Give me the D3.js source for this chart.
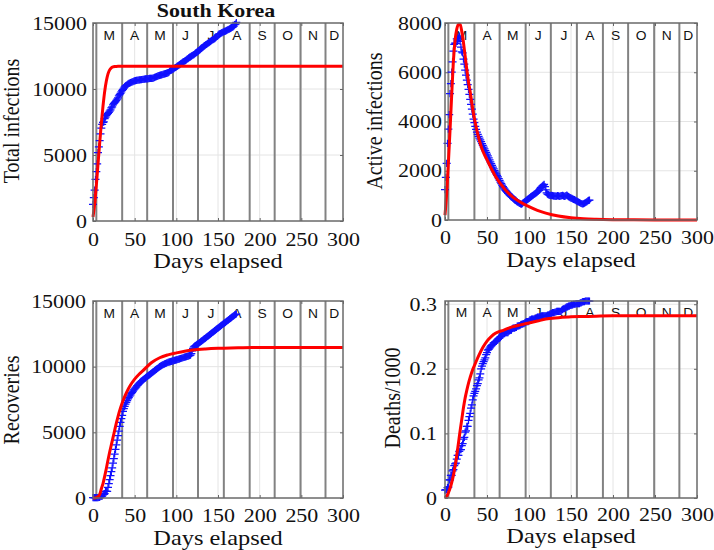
<!DOCTYPE html>
<html><head><meta charset="utf-8">
<script src="https://cdn.jsdelivr.net/npm/d3@7"></script>
<style>body{margin:0;background:#fff}svg{display:block}</style>
</head><body>
<svg id="c" width="714" height="550"></svg>
<script>
// ---------- data (day index = position in array, day 0 = first data day) ----------
const totalInfections = [1261,1766,2337,3150,3736,4335,5186,5621,6088,6593,7041,7314,7478,7513,7755,7869,7979,8086,8162,8236,
8320,8413,8565,8652,8799,8897,8961,9037,9137,9241,9332,9478,9583,9661,9786,9887,9976,10062,10156,10237,
10284,10331,10384,10423,10450,10480,10512,10537,10564,10591,10613,10635,10653,10661,10674,10683,10694,10702,10708,10718,
10728,10738,10752,10761,10765,10774,10780,10793,10801,10804,10806,10810,10822,10840,10874,10909,10936,10962,10991,11018,
11037,11050,11065,11078,11110,11122,11142,11165,11190,11206,11225,11265,11344,11402,11441,11468,11503,11541,11590,11629,
11668,11719,11776,11814,11852,11902,11947,12003,12051,12085,12121,12155,12198,12257,12306,12373,12421,12438,12484,12535,
12563,12602,12653,12715,12757,12800,12850,12904,12967,13030,13091,13137,13181,13244,13293,13338,13373,13417,13479,13512,
13551,13612,13672,13711,13745,13771,13816,13879,13938,13979,14092,14150,14175,14203,14251,14269,14305,14336,14366,14389,
14423,14456,14499,14519,14562,14598,14626,14660,14714,14770,14873,14923,15039];

const activeInfections = [1230,1730,2300,3110,3690,4280,5130,5540,6010,6420,6860,7130,7180,7170,7360,7290,7400,7470,
7250,7020,6830,6790,6530,6330,6090,5880,5680,5500,5300,5100,4900,4700,4500,4300,4100,3950,
3800,3680,3570,3480,3400,3320,3250,3180,3100,3030,2960,2890,2820,2750,2680,2600,2520,2440,2360,2290,2220,2150,2080,2010,1940,
1870,1810,1750,1680,1610,1540,1480,1420,1360,1300,1250,1200,1160,1120,1080,1050,1010,980,950,920,880,850,820,800,770,740,710,690,670,650,640,
660,700,720,740,770,800,830,860,880,910,940,960,990,1010,1040,1060,1090,1110,1140,1170,1200,1260,1310,1350,1390,1420,1450,
1360,1220,1100,1050,1030,1010,1000,990,1000,990,980,970,980,960,970,990,980,960,
970,980,990,1000,980,960,970,990,1010,980,950,930,910,
890,880,860,840,830,810,790,770,750,730,710,690,670,660,650,660,680,700,720,750,780,800,810];

const recoveries = [22,22,22,22,30,30,30,41,41,135,135,135,247,288,333,510,510,510,
800,1100,1400,1700,2000,2300,2650,3000,3350,3700,4050,4400,4750,5100,5450,5750,6050,6300,
6600,6800,6980,7140,7290,7420,7540,7650,7760,7860,7960,8050,8140,8230,8310,8390,8470,8550,8620,8690,8760,8820,8880,8940,9000,
9050,9100,9150,9200,9250,9300,9350,9400,9450,9500,9550,9600,9650,9700,9750,9800,9850,9900,9950,10000,10040,10080,10120,10150,10180,10210,10240,10270,10300,10320,10340,
10360,10380,10400,10420,10440,10460,10480,10500,10520,10540,10560,10580,10600,10620,10640,10660,10680,10700,10720,10740,10760,10780,10800,10820,10850,10880,
11000,11200,11400,11500,11560,11610,11660,11700,11740,
11790,11840,11880,11940,11990,12030,12090,12140,12180,12240,12290,12330,12390,12440,12480,12540,12590,12630,12690,12740,
12780,12840,12890,12930,12990,13040,13080,13140,13190,13230,13290,13340,13380,13440,13490,13530,13590,13640,13680,13740,
13790,13830,13890,13940,13980,14010];

const deathsThousands = [.012,.013,.013,.016,.017,.028,.028,.035,.035,.042,
.044,.050,.053,.054,.060,.066,.066,.072,.075,.075,
.081,.084,.091,.094,.102,.104,.111,.111,.120,.126,
.131,.139,.144,.152,.158,.162,.165,.169,.174,.177,
.183,.186,.192,.200,.204,.208,.211,.214,.217,.222,
.225,.229,.230,.232,.234,.236,.237,.238,.240,.240,
.242,.243,.244,.246,.247,.248,.250,.250,.252,.254,
.255,.256,.256,.256,.256,.256,.258,.259,.260,.260,
.262,.263,.263,.263,.264,.264,.266,.266,.267,.267,
.268,.269,.269,.270,.270,.271,.272,.273,.273,.273,
.274,.276,.276,.277,.277,.277,.277,.278,.278,.279,
.280,.280,.280,.281,.281,.282,.282,.282,.282,.282,
.282,.282,.283,.283,.284,.285,.285,.286,.287,.287,
.287,.288,.288,.289,.289,.289,.289,.289,.289,.291,
.292,.293,.293,.294,.295,.296,.296,.297,.297,.298,
.298,.299,.299,.300,.300,.300,.301,.301,.301,.301,
.301,.302,.302,.303,.304,.304,.304,.305,.305,.305,
.305,.305,.305];

// model curves (red), sampled on modelDays
const modelDays   = [0,2,4,6,8,10,12,14,16,18,20,22,24,26,28,30,33,36,40,45,50,55,60,70,80,90,100,110,120,135,150,165,180,200,225,250,275,300];
const modelTotal  = [300,1300,2700,4300,5900,7400,8700,9800,10600,11150,11450,11600,11670,11700,11710,11715,11715,11715,11715,11715,11715,11715,11715,11715,11715,11715,11715,11715,11715,11715,11715,11715,11715,11715,11715,11715,11715,11715];
const modelActive = [200,1085,2300,3660,5100,6450,7300,7750,7950,7950,7650,7200,6650,6100,5600,5200,4500,3950,3350,2800,2450,2100,1780,1300,950,720,540,390,280,160,90,50,30,15,7,3,1,0];
const modelRecov  = [0,5,30,100,260,700,1100,1650,2250,2900,3500,4050,4600,5150,5700,6200,6850,7400,8000,8600,9050,9400,9700,10300,10680,10900,11050,11180,11270,11350,11400,11430,11445,11455,11460,11460,11460,11460];
const modelDeaths = [0,.003,.008,.015,.024,.035,.049,.066,.085,.104,.122,.140,.155,.167,.178,.187,.199,.208,.220,.233,.243,.250,.255,.260,.265,.268,.271,.274,.277,.279,.2805,.281,.2815,.282,.282,.282,.282,.282];

const monthStarts = [4,35,65,96,126,157,188,218,249,279];
const monthNames  = ["M","A","M","J","J","A","S","O","N","D"];
const xTicks = [0,50,100,150,200,250,300];
const yTicksCases  = [0,5000,10000,15000];
const yTicksActive = [0,2000,4000,6000,8000];
const yTicksDeaths = [0,0.1,0.2,0.3];

// ---------- drawing ----------
const svg = d3.select("#c");
const SERIF = "'Liberation Serif','Times New Roman',serif";
const SANS = "'Liberation Sans',Arial,sans-serif";
const SX = 1.22;

function txt(g, s, x, y, size, opts={}) {
  return g.append("text").text(s)
    .attr("transform", `translate(${x},${y}) ${opts.rot ? "rotate(-90) scale(1,1.15)" : "scale("+(opts.sx||SX)+",1)"}`)
    .attr("text-anchor", opts.anchor || "middle")
    .attr("font-family", opts.family || SERIF)
    .attr("font-size", size)
    .attr("font-weight", opts.weight || "normal")
    .attr("fill", "#111");
}

function panel(cfg) {
  const g = svg.append("g");
  const x = d3.scaleLinear().domain([0,300]).range([cfg.l, cfg.r]);
  const y = d3.scaleLinear().domain([0,cfg.ymax]).range([cfg.b, cfg.t]);

  g.append("g").selectAll("line").data(xTicks.filter(d=>d>0&&d<300)).enter().append("line")
    .attr("x1",d=>x(d)).attr("x2",d=>x(d)).attr("y1",cfg.t).attr("y2",cfg.b)
    .attr("stroke","#e4e4e4").attr("stroke-width",1);
  g.append("g").selectAll("line").data(cfg.yticks.filter(d=>d>0 && y(d)>cfg.t+1)).enter().append("line")
    .attr("x1",cfg.l).attr("x2",cfg.r).attr("y1",d=>y(d)).attr("y2",d=>y(d))
    .attr("stroke","#e4e4e4").attr("stroke-width",1);

  g.append("g").selectAll("line").data(monthStarts).enter().append("line")
    .attr("x1",d=>x(d)).attr("x2",d=>x(d)).attr("y1",cfg.t).attr("y2",cfg.b)
    .attr("stroke","#828282").attr("stroke-width",2);
  const ends = monthStarts.slice(1).concat([300]);
  monthNames.forEach((m,i)=>{
    txt(g, m, x((monthStarts[i]+ends[i])/2), cfg.mb, 12, {family:SANS, sx:1.15});
  });

  const ax = g.append("g").attr("transform",`translate(0,${cfg.b})`)
    .call(d3.axisBottom(x).tickValues(xTicks).tickSizeInner(-3).tickSizeOuter(0).tickPadding(0));
  ax.select(".domain").remove();
  ax.selectAll("line").attr("stroke","#666");
  ax.selectAll("text").attr("y",null).attr("dy",null)
    .attr("transform",`translate(0,${cfg.xtb-cfg.b}) scale(${SX},1)`)
    .attr("font-family",SERIF).attr("font-size",18).attr("fill","#111");

  const ay = g.append("g").attr("transform",`translate(${cfg.l},0)`)
    .call(d3.axisLeft(y).tickValues(cfg.yticks).tickFormat(d=>String(d)).tickSizeInner(-3).tickSizeOuter(0).tickPadding(0));
  ay.select(".domain").remove();
  ay.selectAll("line").attr("stroke","#666");
  ay.selectAll("text").attr("x",null).attr("dy",null)
    .attr("transform",`translate(${cfg.ytr-cfg.l},6) scale(${SX},1)`)
    .attr("text-anchor","end")
    .attr("font-family",SERIF).attr("font-size",18).attr("fill","#111");

  const at = g.append("g").attr("transform",`translate(0,${cfg.t})`)
    .call(d3.axisTop(x).tickValues(xTicks).tickSizeInner(-3).tickSizeOuter(0).tickFormat(""));
  at.select(".domain").remove(); at.selectAll("line").attr("stroke","#666");
  const ar = g.append("g").attr("transform",`translate(${cfg.r},0)`)
    .call(d3.axisRight(y).tickValues(cfg.yticks).tickSizeInner(-3).tickSizeOuter(0).tickFormat(""));
  ar.select(".domain").remove(); ar.selectAll("line").attr("stroke","#666");

  g.append("g").selectAll("path").data(cfg.data).enter().append("path")
    .attr("transform",(d,i)=>`translate(${x(i)},${y(d)})`)
    .attr("d","M-4,0H4M0,-3.6V3.6")
    .attr("stroke","#1010ff").attr("stroke-width",1.25).attr("fill","none");

  const pts = modelDays.map((d,i)=>[d, cfg.model[i]]);
  g.append("path").datum(pts)
    .attr("d", d3.line().x(d=>x(d[0])).y(d=>y(d[1])).curve(d3.curveMonotoneX))
    .attr("fill","none").attr("stroke","#ff0000").attr("stroke-width",3).attr("stroke-linejoin","round");

  g.append("rect").attr("x",cfg.l).attr("y",cfg.t).attr("width",cfg.r-cfg.l).attr("height",cfg.b-cfg.t)
    .attr("fill","none").attr("stroke","#6a6a6a").attr("stroke-width",1.5);

  txt(g, "Days elapsed", (cfg.l+cfg.r)/2, cfg.xlb, 20);
  txt(g, cfg.ylabel, cfg.ylx, cfg.yly, 20, {rot:true});
}

panel({l:93,r:343,t:23,b:221,ymax:15000,yticks:yTicksCases,data:totalInfections,model:modelTotal,
  mb:40,xtb:246,ytr:87,xlb:268,ylabel:"Total  infections",ylx:19,yly:121});
panel({l:445,r:697,t:23,b:220,ymax:8000,yticks:yTicksActive,data:activeInfections,model:modelActive,
  mb:40,xtb:244,ytr:442,xlb:267,ylabel:"Active infections",ylx:382,yly:121});
panel({l:93,r:343,t:301,b:498,ymax:15000,yticks:yTicksCases,data:recoveries,model:modelRecov,
  mb:318,xtb:522,ytr:86,xlb:545,ylabel:"Recoveries",ylx:19,yly:400});
panel({l:445,r:697,t:301,b:498,ymax:0.305,yticks:yTicksDeaths,data:deathsThousands,model:modelDeaths,
  mb:317,xtb:521,ytr:437,xlb:543,ylabel:"Deaths/1000",ylx:400,yly:398});

txt(svg, "South Korea", 216, 17, 18, {weight:"bold"});
</script>
</body></html>
